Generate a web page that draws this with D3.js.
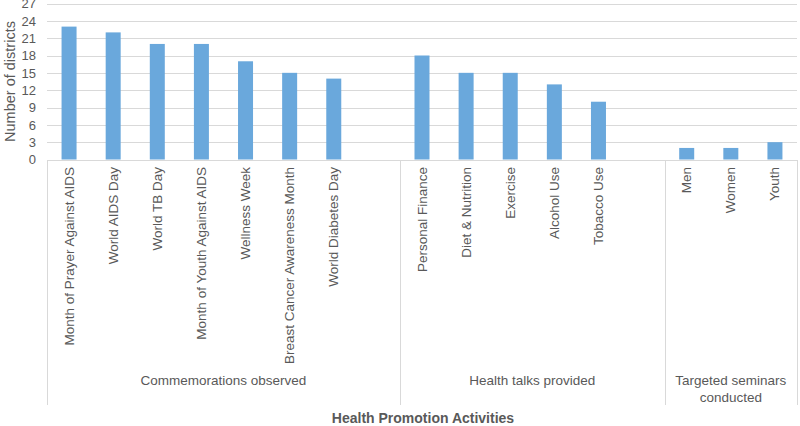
<!DOCTYPE html>
<html><head><meta charset="utf-8">
<script src="https://cdn.jsdelivr.net/npm/d3@7"></script>
<style>body{margin:0;background:#fff;}svg{display:block;font-family:"Liberation Sans",Arial,sans-serif;}</style>
</head><body>
<svg id="c" width="800" height="426"></svg>
<script>
const groupNames = ["Commemorations observed", "Health talks provided", "Targeted seminars conducted"];
const commemorations = ["Month of Prayer Against AIDS","World AIDS Day","World TB Day","Month of Youth Against AIDS","Wellness Week","Breast Cancer Awareness Month","World Diabetes Day",""];
const commemorationValues = [23,22,20,20,17,15,14,null];
const healthTalks = ["Personal Finance","Diet & Nutrition","Exercise","Alcohol Use","Tobacco Use",""];
const healthTalkValues = [18,15,15,13,10,null];
const seminars = ["Men","Women","Youth"];
const seminarValues = [2,2,3];
const yTicks = [0,3,6,9,12,15,18,21,24,27];

const groups = [
  {name: groupNames[0], cats: commemorations, vals: commemorationValues},
  {name: groupNames[1], cats: healthTalks, vals: healthTalkValues},
  {name: groupNames[2], cats: seminars, vals: seminarValues}
];
const rows = [];
groups.forEach((g, gi) => g.cats.forEach((c, i) => rows.push({id: gi + "-" + i, label: c, value: g.vals[i], group: gi})));

const svg = d3.select("#c");
const L = 47, R = 797, T = 3.5, B = 159.5, AX_BOTTOM = 405;
const x = d3.scaleBand().domain(rows.map(d => d.id)).range([L, R]).paddingInner(0.66).paddingOuter(0.33);
const y = d3.scaleLinear().domain([0, 27]).range([B, T]);
const step = x.step();
const textCol = "#595959";

// gridlines
svg.append("g").selectAll("line").data(yTicks.slice(1)).join("line")
  .attr("x1", L).attr("x2", R).attr("y1", d => Math.round(y(d)) + 0.5).attr("y2", d => Math.round(y(d)) + 0.5)
  .attr("stroke", "#d9d9d9").attr("stroke-width", 1);

// y axis labels
const yAxis = d3.axisLeft(y).tickValues(yTicks).tickSize(0).tickPadding(11);
const ya = svg.append("g").attr("transform", `translate(${L},0)`).call(yAxis);
ya.select(".domain").remove();
ya.selectAll("text").attr("font-size", 13).attr("fill", textCol).attr("font-family", "Liberation Sans, Arial, sans-serif");

// bars
svg.append("g").selectAll("rect").data(rows.filter(d => d.value != null)).join("rect")
  .attr("x", d => x(d.id)).attr("width", x.bandwidth())
  .attr("y", d => y(d.value)).attr("height", d => y(0) - y(d.value))
  .attr("fill", "#6aa8dc");

// x axis line
svg.append("line").attr("x1", L).attr("x2", R).attr("y1", Math.round(B) + 0.5).attr("y2", Math.round(B) + 0.5)
  .attr("stroke", "#d9d9d9");

// group boundaries
let bounds = [L];
let acc = 0;
groups.forEach(g => { acc += g.cats.length; bounds.push(L + acc * step); });
svg.append("g").selectAll("line").data(bounds).join("line")
  .attr("x1", d => Math.round(d) + 0.5).attr("x2", d => Math.round(d) + 0.5)
  .attr("y1", Math.round(B)).attr("y2", AX_BOTTOM).attr("stroke", "#d9d9d9");

// category labels
svg.append("g").selectAll("text").data(rows.filter(d => d.label)).join("text")
  .attr("transform", d => `translate(${x(d.id) + x.bandwidth() / 2 + 4.5},167) rotate(-90)`)
  .attr("text-anchor", "end").attr("font-size", 13.5).attr("fill", textCol)
  .text(d => d.label);

// group labels
const gLabels = [[groupNames[0]], [groupNames[1]], ["Targeted seminars", "conducted"]];
gLabels.forEach((lines, gi) => {
  const cx = (bounds[gi] + bounds[gi + 1]) / 2;
  lines.forEach((t, li) => {
    svg.append("text").attr("x", cx).attr("y", 385 + li * 17).attr("text-anchor", "middle")
      .attr("font-size", 13.5).attr("fill", textCol).text(t);
  });
});

// axis titles
svg.append("text").attr("x", (L + R) / 2 + 1).attr("y", 423).attr("text-anchor", "middle")
  .attr("font-size", 14).attr("font-weight", "bold").attr("fill", textCol).text("Health Promotion Activities");
svg.append("text").attr("transform", `translate(15,${(T + B) / 2}) rotate(-90)`).attr("text-anchor", "middle")
  .attr("font-size", 14.5).attr("fill", textCol).text("Number of districts");
</script>
</body></html>
